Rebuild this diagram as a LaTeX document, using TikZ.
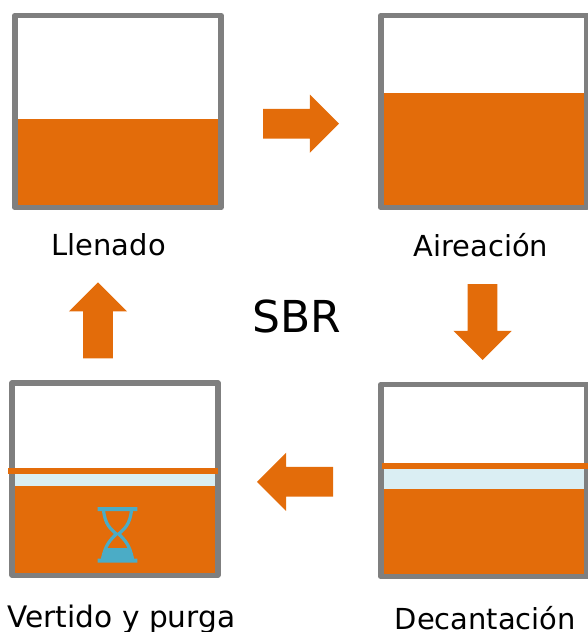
\documentclass[tikz,border=0pt]{standalone}
\usepackage{fontspec}
\setmainfont{DejaVu Sans}
\usepackage{xcolor}
\definecolor{sbrorange}{HTML}{E36C0A}
\definecolor{sbrgray}{HTML}{7F7F7F}
\definecolor{sbrclear}{HTML}{DAEEF3}
\definecolor{sbrglass}{HTML}{4BACC6}
\usepackage{tikz}
\usetikzlibrary{shapes.arrows, positioning}

\begin{document}
\begin{tikzpicture}[
    x=0.75pt, y=-0.75pt,
    tank/.style={rectangle, draw=sbrgray, line width=4.3pt, line join=round, fill=white, inner sep=0pt, outer sep=0pt, minimum width=154.5pt, minimum height=144pt},
    water/.style={rectangle, fill=sbrorange, draw=none, inner sep=0pt, outer sep=0pt, anchor=north west, minimum width=150pt},
    clear/.style={rectangle, fill=sbrclear, draw=none, inner sep=0pt, outer sep=0pt, anchor=north west, minimum width=150pt},
    scum/.style={rectangle, fill=sbrorange, draw=none, inner sep=0pt, outer sep=0pt, anchor=north west, minimum height=4.5pt},
    flow/.style={single arrow, fill=sbrorange, draw=none, inner xsep=0pt, inner ysep=11pt, outer sep=0pt, minimum height=57pt, minimum width=43.2pt, single arrow head extend=10.6pt, single arrow tip angle=90, anchor=tail},
    label/.style={font=\fontsize{21.7}{26}\selectfont, inner sep=0pt, text=black}
]
\useasboundingbox (0,0) rectangle (588,632);

% Llenado
\node[tank] (fill) at (118,111.5) {};
\node[water, minimum height=64.5pt] (fillw) at (18,119) {};
\node[label, below=19pt of fill.south, xshift=-7pt] (filll) {Llenado};

% Aireacion
\node[tank] (air) at (483.7,111.5) {};
\node[water, minimum height=84pt] (airw) at (383.7,93) {};
\node[label, below=19pt of air.south, xshift=-2.2pt] (airl) {Aireación};

% Decantacion
\node[tank] (dec) at (484,480.5) {};
\node[clear, minimum height=20pt] (decc) at (384,462.5) {};
\node[water, minimum height=64pt] (decw) at (384,489) {};
\node[scum, minimum width=155pt] (decs) at (381.5,463) {};
\node[label, below=22.2pt of dec.south, xshift=1pt] (decl) {Decantación};

% Vertido
\node[tank] (pur) at (115,479) {};
\node[clear, minimum height=14pt] (purc) at (15,467.5) {};
\node[water, minimum height=65pt] (purw) at (15,486) {};
\node[scum, minimum width=157.5pt] (purs) at (8,468) {};
\node[label, font=\fontsize{22.2}{26}\selectfont, below=22pt of pur.south, xshift=4.8pt] (purl) {Vertido y purga};

% Hourglass
\fill[sbrglass] (97.7,507) rectangle (137.3,511) (97.7,562.7) rectangle (137.3,558.7);
\draw[sbrglass, line width=2.4pt] (103.5,510) .. controls (105,525) and (111,529) .. (116.3,534)
    .. controls (111,539) and (105,545) .. (102.5,559);
\draw[sbrglass, line width=2.4pt] (131.5,510) .. controls (130,525) and (124,529) .. (118.7,534)
    .. controls (124,539) and (130,545) .. (132.5,559);
\fill[sbrglass] (105,548) -- (130,548) .. controls (132,552) and (133,556) .. (134,559) -- (101,559) .. controls (102,556) and (103,552) .. (105,548) -- cycle;

% Arrows
\node[flow] (a1) at (263,123.7) {};
\node[flow, rotate=-90] (a2) at (482.5,284) {};
\node[flow, rotate=180] (a3) at (333,481.8) {};
\node[flow, rotate=90] (a4) at (98,358.3) {};

\node[font=\fontsize{33}{40}\selectfont, inner sep=0pt] (title) at (296.5,316) {SBR};

\end{tikzpicture}
\end{document}
